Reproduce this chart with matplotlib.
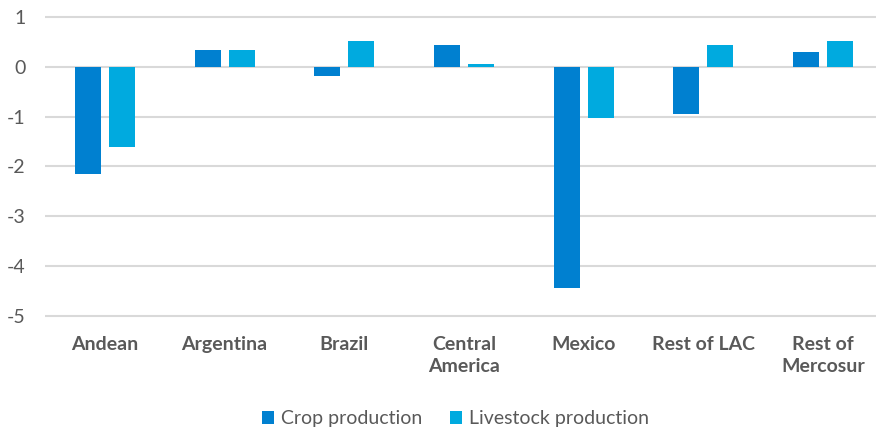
import matplotlib
matplotlib.use("Agg")
import matplotlib.pyplot as plt
import numpy as np

categories = ["Andean", "Argentina", "Brazil", "Central\nAmerica", "Mexico", "Rest of LAC", "Rest of\nMercosur"]
crop = [-2.15, 0.34, -0.19, 0.43, -4.44, -0.95, 0.29]
livestock = [-1.60, 0.34, 0.52, 0.05, -1.02, 0.43, 0.52]
series_names = ["Crop production", "Livestock production"]
yticks = [1, 0, -1, -2, -3, -4, -5]

plt.rcParams['font.family'] = ['Lato', 'DejaVu Sans']

fig = plt.figure(figsize=(8.76, 4.29), dpi=100)
ax = fig.add_axes([0.0514, 0.2578, 0.9566, 0.7082])

x = np.arange(len(categories))
w = 0.217
off = 0.142
ax.bar(x - off, crop, width=w, color="#0080D0", label=series_names[0], zorder=3)
ax.bar(x + off, livestock, width=w, color="#00AADF", label=series_names[1], zorder=3)

ax.set_xlim(-0.5, len(categories) - 0.5)
ax.set_ylim(-5.05, 1.05)
ax.set_yticks(yticks)
ax.set_yticklabels([str(v) for v in yticks])
ax.set_xticks(x)
ax.set_xticklabels(categories, fontweight="bold", fontsize=14, color="#595959", linespacing=1.3)
ax.tick_params(axis="x", length=0, pad=13)
ax.tick_params(axis="y", length=0, pad=14, labelsize=14, labelcolor="#595959")
for s in ax.spines.values():
    s.set_visible(False)
ax.grid(axis="y", color="#D9D9D9", linewidth=1.5, zorder=0)
ax.set_axisbelow(True)

fig.legend(loc="center", bbox_to_anchor=(0.52, 0.024), ncol=2, frameon=False,
           fontsize=14, handlelength=0.65, handleheight=0.65, handletextpad=0.35,
           columnspacing=1.4, labelcolor="#595959")

fig.savefig("out.png", dpi=100)
